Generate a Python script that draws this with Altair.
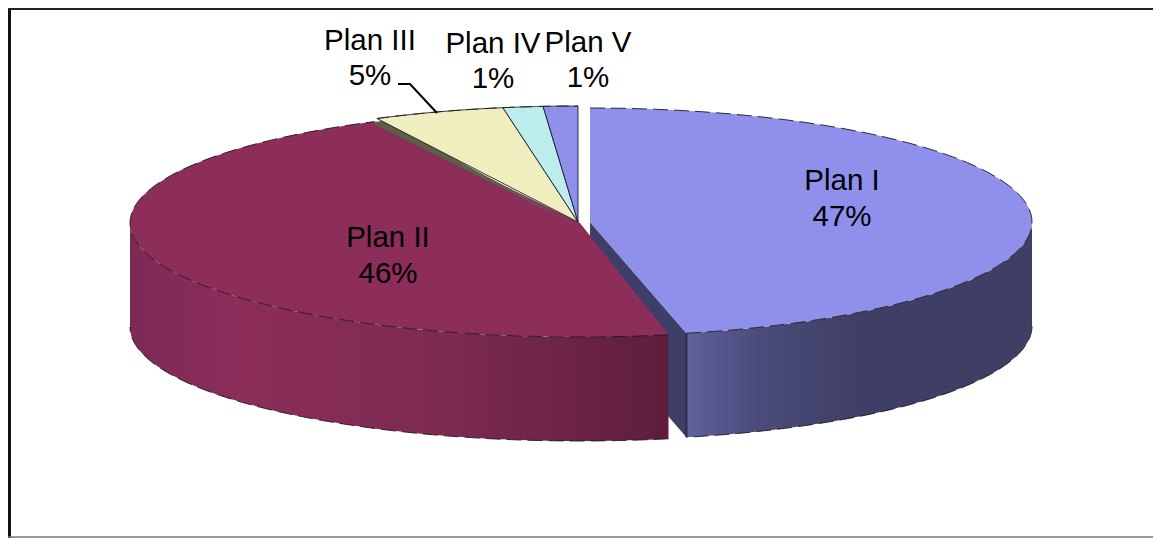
import math
import altair as alt
import pandas as pd

# Slice values (percent of the full turn)
names = ["Plan I", "Plan II", "Edge", "Plan III", "Plan IV", "Plan V"]
start_pct = [0.0, 46.85, 92.3, 92.54, 97.3, 98.75]
share_pct = [46.5, 45.6, 0.55, 4.76, 1.45, 1.25]
top_colors = ["#8f8fec", "#8c2d5a", "#5e5f45", "#eeeebf", "#bdecec", "#8f8fec"]
center_x = [590, 580, 578, 578, 578, 578]
center_y = [222, 223, 226, 222, 222, 222]
radius_x = [442, 450, 445, 445, 445, 445]
radius_y = [114, 114, 117, 116, 116, 116]
edge_widths = [0, 0, 0, 0.9, 0.9, 0.9]
DEPTH = 104

label_names = ["Plan I", "Plan II", "Plan III", "Plan IV", "Plan V"]
label_pcts = ["47%", "46%", "5%", "1%", "1%"]
label_x = [842, 388, 370, 493, 588]
label_name_y = [190, 247, 50, 53, 52]
label_pct_y = [226, 283, 85, 88, 87]

leader_x = [398, 410, 437]
leader_y = [84, 84, 113]

RIGHT = 1153
BOTTOM = 538
x_scale = alt.Scale(domain=[8, RIGHT], nice=False, zero=False)
y_scale = alt.Scale(domain=[8, BOTTOM], reverse=True, nice=False, zero=False)


def rim(i, t0, t1, dy=0.0, n=80):
    pts = []
    for k in range(n + 1):
        t = math.radians(t0 + (t1 - t0) * k / n)
        pts.append((center_x[i] + radius_x[i] * math.sin(t),
                    center_y[i] - radius_y[i] * math.cos(t) + dy))
    return pts


def poly(points, fill, stroke="transparent", width=0.0):
    df = pd.DataFrame([{"x": p[0], "y": p[1], "i": j} for j, p in enumerate(points)])
    return alt.Chart(df).mark_line(
        fill=fill, stroke=stroke, strokeWidth=width, clip=False, interpolate="linear"
    ).encode(
        x=alt.X("x:Q", scale=x_scale, axis=None),
        y=alt.Y("y:Q", scale=y_scale, axis=None),
        order=alt.Order("i:Q"),
    )


def path(points, stroke, width, dash=None):
    df = pd.DataFrame([{"x": p[0], "y": p[1], "i": j} for j, p in enumerate(points)])
    kw = dict(stroke=stroke, strokeWidth=width, clip=False, interpolate="linear")
    if dash:
        kw["strokeDash"] = dash
    return alt.Chart(df).mark_line(**kw).encode(
        x=alt.X("x:Q", scale=x_scale, axis=None),
        y=alt.Y("y:Q", scale=y_scale, axis=None),
        order=alt.Order("i:Q"),
    )


def grad(stops):
    return alt.Gradient(
        gradient="linear", x1=0, x2=1, y1=0, y2=0,
        stops=[alt.GradientStop(offset=o, color=c) for o, c in stops],
    )


def deg(i):
    return start_pct[i] * 3.6, (start_pct[i] + share_pct[i]) * 3.6


layers = []

# Plan I: cut face and outer wall
t0, t1 = deg(0)
end_top = rim(0, t1, t1, n=1)[0]
apex = (center_x[0], center_y[0])
layers.append(poly([apex, end_top, (end_top[0], end_top[1] + DEPTH), (apex[0], apex[1] + DEPTH), apex], "#3e3e68"))
wall = rim(0, 90, t1) + rim(0, t1, 90, dy=DEPTH)
wall.append(wall[0])
layers.append(poly(wall, grad([(0, "#60609c"), (0.2, "#4c4c7c"), (0.5, "#3e3e66"), (1, "#3f3f66")])))
layers.append(path([end_top, (end_top[0], end_top[1] + DEPTH)], "#2c2c50", 2))

# Plan II: outer wall
t0, t1 = deg(1)
wall = rim(1, t0, 270) + rim(1, 270, t0, dy=DEPTH)
wall.append(wall[0])
layers.append(poly(wall, grad([(0, "#7c2a55"), (0.2, "#8c2d5a"), (0.6, "#7c2a50"), (1, "#5e1d3b")])))

# Top faces
for i in range(6):
    t0, t1 = deg(i)
    pts = [(center_x[i], center_y[i])] + rim(i, t0, t1)
    pts.append(pts[0])
    layers.append(poly(pts, top_colors[i], stroke="#1c1c28" if edge_widths[i] else "transparent", width=edge_widths[i]))

# Fine dashed dark rim lines
t0, t1 = deg(0)
layers.append(path(rim(0, 0, t1), "#1a1a1a", 0.9, [15, 6]))
layers.append(path(rim(0, 90, t1, dy=DEPTH), "#1a1a1a", 0.9, [15, 6]))
t0, t1 = deg(1)
layers.append(path(rim(1, t0, t1), "#1a1a1a", 0.9, [15, 6]))
layers.append(path(rim(1, t0, 270, dy=DEPTH), "#1a1a1a", 0.9, [15, 6]))
layers.append(path(rim(3, deg(3)[0], 360), "#1a1a1a", 0.9, [12, 6]))

# Leader line
layers.append(path(list(zip(leader_x, leader_y)), "#000000", 2))

# Frame
layers.append(path([(9.5, 8), (9.5, BOTTOM)], "#111111", 3))
layers.append(path([(8, 9), (RIGHT, 9)], "#222222", 2))
layers.append(path([(8, BOTTOM - 1), (RIGHT, BOTTOM - 1)], "#777777", 1.6))

# Labels
labels = pd.DataFrame(
    {"x": label_x * 2,
     "y": label_name_y + label_pct_y,
     "t": label_names + label_pcts}
)
layers.append(
    alt.Chart(labels).mark_text(
        font="Liberation Sans", fontSize=29.5, color="#000000", align="center", baseline="alphabetic"
    ).encode(
        x=alt.X("x:Q", scale=x_scale, axis=None),
        y=alt.Y("y:Q", scale=y_scale, axis=None),
        text="t:N",
    )
)

chart = alt.layer(*layers).properties(
    width=RIGHT - 8, height=BOTTOM - 8, padding=0,
    autosize=alt.AutoSizeParams(type="none"),
    background="#ffffff",
).configure_view(stroke=None)

chart.save("out.html", embed_options={"renderer": "svg", "actions": False})
